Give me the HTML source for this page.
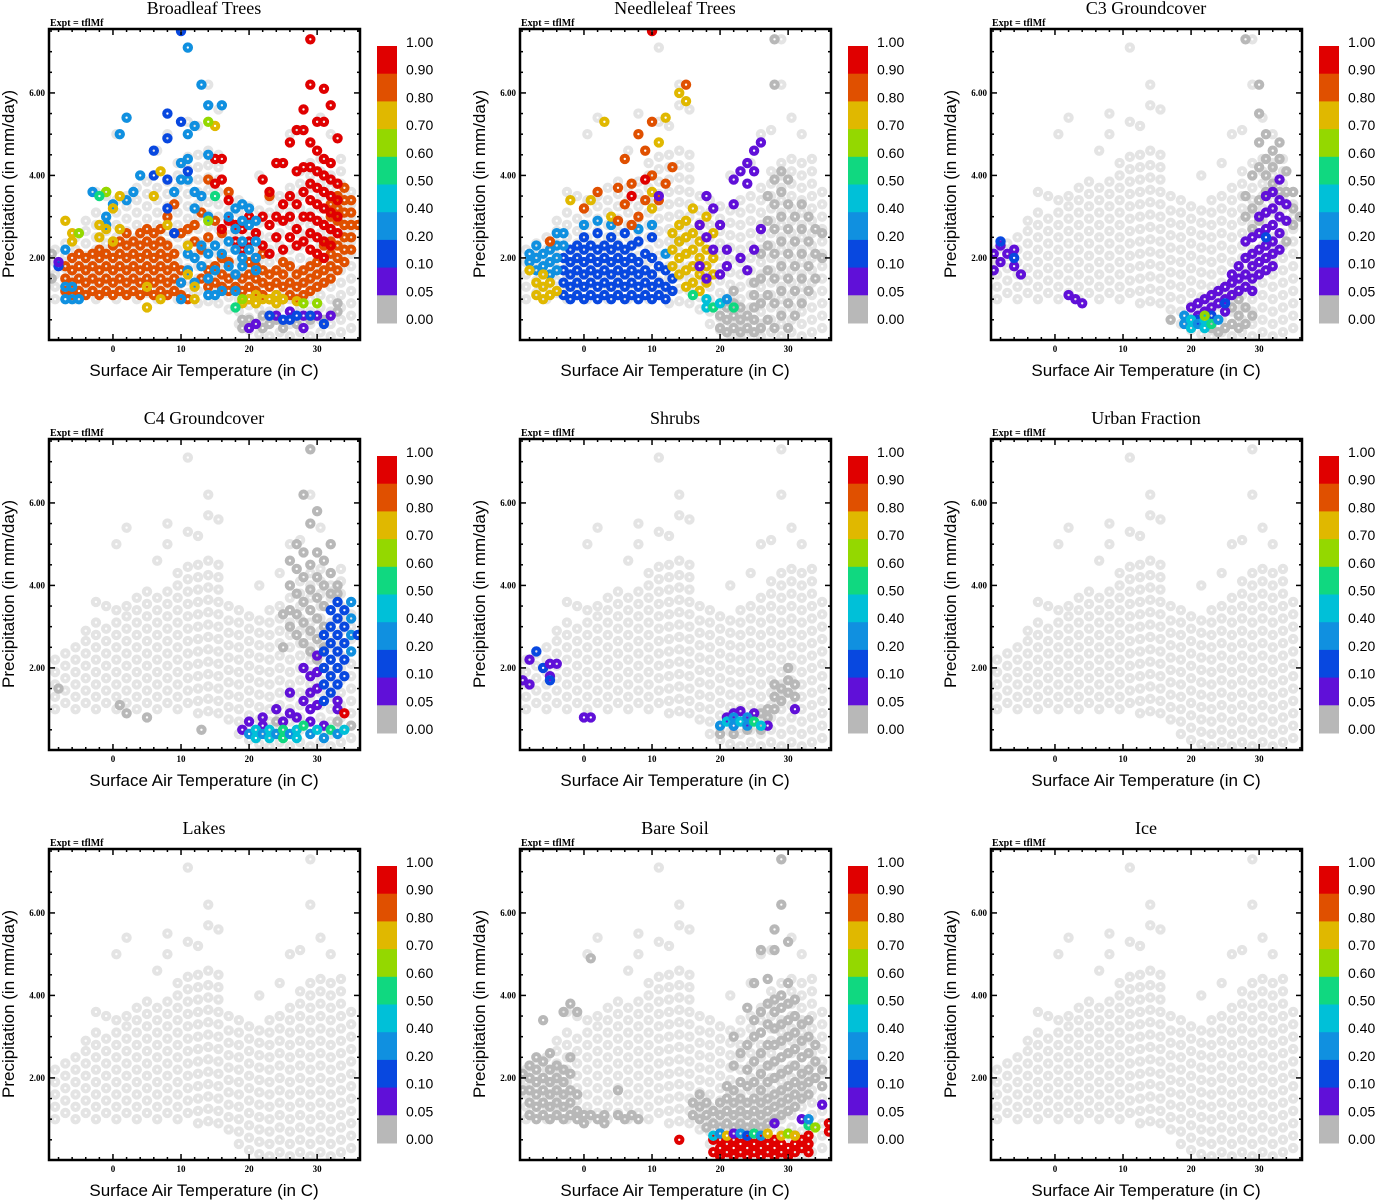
<!DOCTYPE html>
<html><head><meta charset="utf-8"><style>
body{margin:0;background:#fff}
svg{display:block}
.tt{font-family:"Liberation Serif",serif;font-size:18px}
.ex{font-family:"Liberation Serif",serif;font-size:10px;font-weight:bold}
.tk{font-family:"Liberation Serif",serif;font-size:9px;font-weight:bold}
.al{font-family:"Liberation Sans",sans-serif;font-size:17px}
.cb{font-family:"Liberation Sans",sans-serif;font-size:14px}
</style></head><body>
<svg id="fig" width="1377" height="1200" xmlns="http://www.w3.org/2000/svg"></svg>
<script>
// shared background cloud: [temperature, precip, precip, ...]
const cloudCols=[
[-8.5,1.0,1.3,1.6,1.9,2.2],[-7,1.15,1.45,1.75,2.05,2.35],[-5.5,1.0,1.3,1.6,1.9,2.2,2.5],
[-4,1.15,1.45,1.75,2.05,2.35,2.65,2.9],[-2.5,1.0,1.3,1.6,1.9,2.2,2.5,2.8,3.1,3.6],
[-1,1.15,1.45,1.75,2.05,2.35,2.65,2.95,3.5],[0.5,1.0,1.3,1.6,1.9,2.2,2.5,2.8,3.1,3.4,5.0],
[2,1.15,1.45,1.75,2.05,2.35,2.65,2.95,3.25,3.5,5.4],[3.5,1.0,1.3,1.6,1.9,2.2,2.5,2.8,3.1,3.4,3.7],
[5,1.15,1.45,1.75,2.05,2.35,2.65,2.95,3.25,3.55,3.85],[6.5,1.0,1.3,1.6,1.9,2.2,2.5,2.8,3.1,3.4,3.7,4.6],
[8,1.15,1.45,1.75,2.05,2.35,2.65,2.95,3.25,3.55,3.85,5.0,5.5],[9.5,1.0,1.3,1.6,1.9,2.2,2.5,2.8,3.1,3.4,3.7,4.0,4.3],
[11,1.15,1.45,1.75,2.05,2.35,2.65,2.95,3.25,3.55,3.85,4.15,4.45,5.3,7.1],[12.5,0.9,1.2,1.5,1.8,2.1,2.4,2.7,3.0,3.3,3.6,3.9,4.2,4.5,5.2],
[14,0.95,1.25,1.55,1.85,2.15,2.45,2.75,3.05,3.35,3.65,3.95,4.25,4.6,5.7,6.2],[15.5,0.9,1.2,1.5,1.8,2.1,2.4,2.7,3.0,3.3,3.6,3.9,4.2,4.5,5.6],
[17,0.75,1.05,1.35,1.65,1.95,2.25,2.55,2.85,3.15,3.5],[18.5,0.4,0.7,1.0,1.3,1.6,1.9,2.2,2.5,2.8,3.1,3.4],
[20,0.25,0.55,0.85,1.15,1.45,1.75,2.05,2.35,2.65,2.95,3.25],[21.5,0.15,0.45,0.75,1.05,1.35,1.65,1.95,2.25,2.55,2.85,3.15,4.0],
[23,0.1,0.4,0.7,1.0,1.3,1.6,1.9,2.2,2.5,2.8,3.1,3.4],[24.5,0.2,0.5,0.8,1.1,1.4,1.7,2.0,2.3,2.6,2.9,3.2,3.5,4.3],
[26,0.1,0.4,0.7,1.0,1.3,1.6,1.9,2.2,2.5,2.8,3.1,3.4,3.7,5.0],[27.5,0.2,0.5,0.8,1.1,1.4,1.7,2.0,2.3,2.6,2.9,3.2,3.5,3.8,4.1,5.1],
[29,0.1,0.4,0.7,1.0,1.3,1.6,1.9,2.2,2.5,2.8,3.1,3.4,3.7,4.0,4.3,6.2,7.3],[30.5,0.2,0.5,0.8,1.1,1.4,1.7,2.0,2.3,2.6,2.9,3.2,3.5,3.8,4.1,4.4,5.4],
[32,0.1,0.4,0.7,1.0,1.3,1.6,1.9,2.2,2.5,2.8,3.1,3.4,3.7,4.0,4.3,5.0],[33.5,0.2,0.5,0.8,1.1,1.4,1.7,2.0,2.3,2.6,2.9,3.2,3.5,3.8,4.1,4.4],
[35,0.3,0.6,0.9,1.2,1.5,1.8,2.1,2.4,2.7,3.0,3.3,3.6]
];
// overlay points per panel: [temperature, fraction value, precip, precip, ...]
const broadleafPts=[
[19,0,0.5,0.3],[20,0,0.5],[21,0,0.4],[22,0,0.3,0.6],[23,0,0.4],[24,0,0.5],[25,0,0.3],[27,0,0.4],[29,0,0.5],[31,0,0.5],[33,0,0.7,0.9],[-9,0,1.5,2.1],
[-7,.85,1.2,1.5,1.8],[-6,.85,1.1,1.4,1.7,2.0],[-5,.85,1.2,1.5,1.8,2.1],[-4,.85,1.1,1.4,1.7,2.0],[-3,.85,1.2,1.5,1.8,2.1],[-2,.85,1.1,1.4,1.7,2.0,2.2],[-1,.85,1.2,1.5,1.8,2.1],[0,.85,1.1,1.4,1.7,2.0,2.3],[1,.85,1.2,1.5,1.8,2.1,2.4],[2,.85,1.1,1.4,1.7,2.0,2.3,2.6],[3,.85,1.2,1.5,1.8,2.1,2.4],[4,.85,1.1,1.4,1.7,2.0,2.3,2.6],[5,.85,1.2,1.5,1.8,2.1,2.4,2.7],[6,.85,1.1,1.4,1.7,2.0,2.3,2.6],[7,.85,1.2,1.5,1.8,2.1,2.4,2.7],[8,.85,1.1,1.4,1.7,2.0,2.3,3.0],[9,.85,1.2,1.5,1.8,2.1,2.6,3.3],[10,.85,1.1,1.4,1.7,2.6],[11,.85,1.0,2.7],[12,.85,2.4,2.8],[13,.85,1.5,2.2,3.1],[14,.85,1.3,1.7,2.5,3.9],[15,.85,1.4,1.8,2.9],[16,.85,1.3,1.6,2.0,2.6],[17,.85,1.2,1.5,1.9,3.6],[18,.85,1.3,1.6,2.7],[19,.85,1.2,1.5],[20,.85,1.0,1.3,1.6,1.9],[21,.85,1.2,1.5,1.8,2.6],[22,.85,1.1,1.4,1.7,2.1],[23,.85,1.0,1.3,1.6,3.5],[24,.85,1.1,1.4,1.7],[25,.85,1.0,1.3,1.6,1.9],[26,.85,1.1,1.4,1.8],[27,.85,1.0,1.3,1.6],[28,.85,1.1,1.4,1.7],[29,.85,1.2,1.5,1.8],[30,.85,1.3,1.6,1.9],[31,.85,1.4,1.7,2.0,2.3],[32,.85,1.5,1.8,2.1,2.4,2.7,3.0,3.3],[33,.85,1.7,2.0,2.3,2.6,2.9,3.2,3.5,3.8],[34,.85,1.9,2.2,2.5,2.8,3.1,3.4,3.7],[35,.85,2.2,2.5,2.8,3.1,3.4],[36,.85,2.8],
[15,.95,4.4,3.8],[16,.95,2.7,4.4,3.9],[17,.95,3.4,2.9],[18,.95,2.8,2.4],[19,.95,2.7,2.2],[20,.95,2.4,3.0],[21,.95,2.6,2.0],[22,.95,3.0,3.9,2.3],[23,.95,2.8,3.6,2.1],[24,.95,3.0,4.3,2.5],[25,.95,2.9,3.3,4.3,2.2],[26,.95,3.0,3.5,4.8,2.5],[27,.95,2.7,3.3,4.1,5.1,2.3],[28,.95,2.4,3.0,3.6,4.2,5.1,5.6],[29,.95,2.2,2.6,3.0,3.4,3.8,4.2,4.8,6.2,7.3],[30,.95,2.1,2.5,2.9,3.3,3.7,4.1,4.6,5.3],[31,.95,2.0,2.4,2.8,3.2,3.6,4.0,4.4,5.3,6.1],[32,.95,2.3,2.7,3.1,3.5,3.9,4.3,5.7],[33,.95,2.6,3.0,3.4,3.8,4.9],
[-7,.3,1.0,1.3,2.2],[-6,.3,1.0,1.3],[-5,.3,1.0],[-3,.3,3.6],[-1,.3,2.8,3.0],[0,.3,3.3],[1,.3,5.0],[2,.3,5.4,3.4],[3,.3,3.6],[4,.3,4.0],[9,.3,3.6],[10,.3,4.3,3.9,1.0,1.4],[11,.3,7.1,5.0,4.4,3.9,1.7,2.1],[12,.3,3.6,3.2,2.0,1.4,5.2],[13,.3,6.2,3.5,2.3,1.8],[14,.3,5.7,4.5,3.0,2.1,1.5,1.1],[15,.3,1.1,2.3,1.7],[16,.3,5.7,2.1,1.2],[17,.3,3.0,2.4,1.8],[18,.3,3.2,2.7,2.2,1.6,1.2],[19,.3,3.3,2.9,2.4,2.0,1.8],[20,.3,3.2,2.8,2.2],[21,.3,2.9,2.4,2.0,1.7],
[8,.15,5.5,4.9,3.9,3.2],[6,.15,4.6,4.0],[10,.15,5.3,7.5],[11,.15,4.1],[9,.15,2.6],[-8,.15,1.8],
[-7,.75,2.9],[-6,.75,2.4,2.6],[-2,.75,2.5,2.8],[-1,.75,2.7,3.6],[0,.75,2.4,3.2],[1,.75,2.7,3.5],[5,.75,1.3,0.8],[6,.75,3.5],[7,.75,4.1,1.0],[8,.75,2.8],[11,.75,2.3,1.6],[12,.75,1.0,1.3],[15,.75,5.2],[19,.75,0.9],[20,.75,1.0],[21,.75,0.9,1.1],[22,.75,1.0],[23,.75,1.0],[24,.75,0.9,1.1],[25,.75,1.0],[27,.75,0.95],
[-5,.65,2.6],[-1,.65,3.6],[14,.65,5.3,2.9],[15,.55,3.5],[-2,.55,3.5],[19,.65,1.0],[28,.65,0.9],[30,.65,0.9],[18,.55,0.8],
[20,.07,0.3],[21,.07,0.4],[24,.07,0.6],[26,.07,0.7],[28,.07,0.3,0.6],[30,.07,0.6],[32,.07,0.6],[-8,.07,1.9],
[23,.15,0.6],[25,.15,0.5],[26,.15,0.5],[27,.15,0.6],[29,.15,0.6],[31,.15,0.4]
];
const needleleafPts=[
[20,0,0.3,0.6,0.9],[21,0,0.2,0.5,0.8],[22,0,0.3,0.6,0.9,1.2],[23,0,0.2,0.5,0.8],[24,0,0.3,0.6],[25,0,0.2,0.5,0.8,1.1,1.4],[26,0,0.3,0.9,1.5,2.1,2.7],[27,0,0.5,1.1,1.7,2.3,2.9,3.5],[28,0,0.3,0.9,1.5,2.1,2.7,3.3,3.9,6.2,7.3],[29,0,0.6,1.2,1.8,2.4,3.0,3.6,4.1],[30,0,0.3,0.9,1.5,2.1,2.7,3.3,3.9],[31,0,0.6,1.2,1.8,2.4,3.0],[32,0,0.9,1.5,2.1,2.7,3.3],[33,0,1.2,1.8,2.4,3.0],[34,0,1.5,2.1,2.7],[35,0,2.0,2.6],
[-3,.15,1.1,1.4,1.7,2.0],[-2,.15,1.0,1.3,1.6,1.9,2.2],[-1,.15,1.1,1.4,1.7,2.0,2.3],[0,.15,1.0,1.3,1.6,1.9,2.2,2.5],[1,.15,1.1,1.4,1.7,2.0,2.3],[2,.15,1.0,1.3,1.6,1.9,2.2,2.6],[3,.15,1.1,1.4,1.7,2.0,2.3],[4,.15,1.0,1.3,1.6,1.9,2.2,2.5],[5,.15,1.1,1.4,1.7,2.0,2.3],[6,.15,1.0,1.3,1.6,1.9,2.2,2.6],[7,.15,1.1,1.4,1.7,2.0,2.3],[8,.15,1.0,1.3,1.6,1.9,2.4],[9,.15,1.1,1.4,1.7,2.1],[10,.15,1.0,1.3,1.6,2.0,2.5],[11,.15,1.1,1.4,1.8],[12,.15,1.0,1.3,1.7],[13,.15,1.2,1.5],
[-8,.3,1.9,2.1],[-7,.3,1.7,2.0,2.3],[-6,.3,1.8,2.1],[-5,.3,1.6,1.9,2.2],[-4,.3,1.7,2.0,2.3,2.6],[-3,.3,2.3,2.6],[0,.3,2.8],[2,.3,2.9],[4,.3,2.8],[8,.3,2.7],[10,.3,2.8],[12,.3,2.1],[14,.3,2.4],
[-7,.75,1.1,1.4],[-6,.75,1.0,1.3,1.6],[-5,.75,1.1,1.4],[-4,.75,1.2],[-8,.75,1.7],[1,.75,3.4],[4,.75,3.0],[13,.75,1.8,2.2,2.6],[14,.75,1.6,2.0,2.4,2.8,6.0],[15,.75,1.3,1.7,2.1,2.5,2.9],[16,.75,1.4,1.8,2.2,2.6,3.2],[17,.75,1.2,1.6,2.0,2.4,2.8],[18,.75,1.4,1.8,2.2,3.0],[19,.75,1.6,2.0,2.6],[10,.75,3.2,3.6],[11,.75,4.8],[12,.75,5.4],[15,.75,5.8],[-2,.75,3.4],[3,.75,5.3],
[0,.85,3.2],[2,.85,3.6],[5,.85,3.7,2.9],[6,.85,4.4,3.3],[7,.85,3.8,2.8],[8,.85,5.0,3.0],[9,.85,4.6,3.4],[10,.85,5.3,4.0],[11,.85,3.4],[12,.85,3.8],[13,.85,4.2],[15,.85,6.2],[-5,.85,2.4],
[7,.95,3.5],[10,.95,7.5],[9,.95,3.9],
[17,.07,1.8,2.8],[18,.07,1.5,2.5,3.5],[19,.07,2.2,3.2],[20,.07,1.6,2.8],[21,.07,1.8,2.2],[22,.07,3.3,3.9],[23,.07,4.1,2.0],[24,.07,3.8,4.3,1.7],[25,.07,4.1,4.6,2.2],[26,.07,4.8,2.7],[11,.07,3.5],
[18,.45,1.0,0.8],[19,.55,0.8],[20,.45,0.9],[21,.3,1.0],[22,.55,0.8],[16,.55,1.1]
];
const c3Pts=[
[17,0,0.5],[23,0,0.3],[24,0,0.2],[25,0,0.3],[26,0,0.4,0.8],[27,0,0.3,0.6,1.0],[28,0,0.4,0.8,3.0,3.5,7.3],[29,0,0.6,2.7,3.2,4.0],[30,0,2.9,3.4,4.2,4.8,5.5,6.2],[31,0,3.6,4.0,4.4,5.0],[32,0,3.8,4.2,4.6],[33,0,4.4,4.8,3.6],[34,0,3.6,4.1,2.4],[35,0,2.8,3.2,3.6],[36,0,3.0],
[-9,.07,1.7,2.1],[-8,.07,2.3,1.9],[-7,.07,2.1],[-6,.07,1.8,2.2],[-5,.07,1.6],[2,.07,1.1],[3,.07,1.0],[4,.07,0.9],[20,.07,0.5,0.8],[21,.07,0.9,0.6],[22,.07,0.7,1.0],[23,.07,0.8,1.1],[24,.07,0.9,1.2],[25,.07,1.0,1.3,0.7],[26,.07,1.1,1.4,1.6],[27,.07,1.2,1.5,1.8],[28,.07,1.3,1.6,2.0,2.4],[29,.07,1.5,1.8,2.1,2.5,1.2],[30,.07,1.6,1.9,2.2,2.6,3.0],[31,.07,1.7,2.0,2.3,2.7,3.1,3.5],[32,.07,1.8,2.1,2.4,2.8,3.2,3.6],[33,.07,2.2,2.6,3.0,3.4,3.9],[34,.07,2.9,3.3],
[-8,.15,2.4],[-6,.15,2.0],[21,.15,0.5],[23,.15,0.6],[25,.15,0.9],[31,.15,2.5],
[19,.3,0.4,0.6],[20,.45,0.3,0.5],[21,.3,0.4],[22,.45,0.5,0.3],[23,.55,0.4],[24,.3,0.5],[22,.65,0.6]
];
const c4Pts=[
[-8,0,1.5],[1,0,1.1],[2,0,0.9],[5,0,0.8],[13,0,0.5],[26,0,3.0,3.4,4.0,4.6],[27,0,2.8,3.3,3.8,4.4,5.0],[28,0,2.6,3.1,3.6,4.2,4.8,6.2],[29,0,2.4,2.9,3.4,3.9,4.5,5.5,7.3],[30,0,2.2,2.7,3.2,3.7,4.2,4.8,5.8],[31,0,2.0,2.5,3.0,3.5,4.0,4.6],[32,0,3.8,4.3,5.0],[33,0,4.0,3.8],[25,0,2.5,3.3],[24,0,1.0,0.7],[33,0,0.7],[35,0,0.6],
[29,.07,1.0,1.4,1.8],[30,.07,1.1,1.5,1.9,2.3],[31,.15,1.2,1.6,2.0,2.4,2.8],[32,.15,1.4,1.8,2.2,2.6,3.0,3.4],[33,.15,1.6,2.0,2.4,2.8,3.2,3.6],[34,.15,1.8,2.2,2.6,3.0,3.4],[35,.3,2.4,2.8,3.2,3.6],[36,.15,2.8],[28,.07,1.2,2.0],[26,.07,0.9,1.4],[24,.07,1.0],[33,.07,1.0,1.2],[20,.07,0.7],[22,.07,0.8,0.6],[25,.07,0.7],[27,.07,0.8],[29,.07,0.7],[31,.07,0.6],[19,.07,0.5],
[20,.3,0.4],[21,.45,0.3,0.5],[22,.3,0.4],[23,.45,0.3,0.5],[24,.3,0.4],[25,.55,0.5,0.3],[26,.3,0.4],[27,.45,0.5,0.3],[28,.55,0.6],[29,.3,0.4],[30,.45,0.5],[31,.3,0.3],[32,.55,0.5],[33,.3,0.4],[34,.95,0.9],[34,.45,0.5]
];
const shrubsPts=[
[20,0,0.4],[22,0,0.4],[24,0,0.5],[26,0,0.5,0.9],[27,0,0.8,1.0],[28,0,1.0,1.3,1.6],[29,0,1.2,1.5],[30,0,1.4,1.7,2.0],[31,0,1.6,1.3],
[-9,.07,1.7],[-8,.07,2.2,1.6],[-7,.15,2.4],[-6,.15,2.0],[-5,.07,1.8,2.1],[-4,.07,2.1],[0,.07,0.8],[1,.07,0.8],[21,.07,0.8],[22,.07,0.9,0.6],[23,.07,0.95],[24,.07,0.7],[25,.07,0.9],[27,.07,0.6],[31,.07,1.0],[-5,.15,1.7],
[20,.3,0.6],[21,.45,0.7],[22,.3,0.6,0.8],[23,.45,0.7],[24,.3,0.6,0.8],[25,.55,0.7],[26,.45,0.6]
];
const urbanPts=[];
const lakesPts=[];
const bareSoilPts=[
[-9,0,1.7,2.1],[-8,0,1.1,1.4,1.7,2.0,2.3],[-7,0,1.0,1.3,1.6,1.9,2.2,2.5],[-6,0,1.1,1.4,1.7,2.0,2.4,3.4],[-5,0,1.0,1.3,1.6,1.9,2.2,2.6],[-4,0,1.1,1.4,1.7,2.0,2.3],[-3,0,1.0,1.3,1.6,1.9,2.2,3.6],[-2,0,1.1,1.4,1.7,2.1,2.5,3.8],[-1,0,1.0,1.2,1.6,3.6],[0,0,0.9,1.1],[1,0,1.1,4.9],[2,0,1.0],[3,0,1.1,0.9],[5,0,1.1,1.7],[6,0,1.0],[7,0,1.1],[8,0,1.0],[16,0,1.1,1.4],[17,0,1.0,1.3,1.6],[18,0,0.8,1.1,1.4],[19,0,0.9,1.2],[20,0,0.8,1.1,1.4],[21,0,0.9,1.2,1.5,1.8],[22,0,0.8,1.1,1.4,1.7,2.3,3.0],[23,0,0.9,1.2,1.5,1.9,2.6],[24,0,0.8,1.1,1.4,1.8,2.2,2.8,3.7],[25,0,0.9,1.2,1.5,1.9,2.4,3.0,3.4,4.3],[26,0,0.8,1.1,1.4,1.7,2.1,2.6,3.1,3.6,5.1],[27,0,0.9,1.2,1.5,1.9,2.3,2.8,3.3,3.8,4.4],[28,0,1.0,1.3,1.6,2.0,2.4,2.8,3.2,3.6,3.9,5.6,5.1],[29,0,1.1,1.4,1.7,2.1,2.5,2.9,3.3,3.7,4.0,6.2,7.3],[30,0,1.2,1.5,1.8,2.2,2.6,3.0,3.4,3.8,4.3,5.3],[31,0,1.3,1.6,1.9,2.3,2.7,3.1,3.5,3.9],[32,0,1.5,1.8,2.1,2.5,2.9,3.3],[33,0,1.6,1.9,2.2,2.6,3.0,3.4],[34,0,2.0,2.4,2.8],[35,0,1.8,2.2],
[14,.95,0.5],[19,.95,0.2,0.5],[20,.95,0.1,0.3,0.5],[21,.95,0.2,0.4],[22,.95,0.1,0.3,0.5],[23,.95,0.2,0.4],[24,.95,0.1,0.3,0.5],[25,.95,0.2,0.4],[26,.95,0.1,0.3,0.5],[27,.95,0.2,0.4],[28,.95,0.1,0.3,0.5],[29,.95,0.2,0.4],[30,.95,0.1,0.3],[31,.95,0.2,0.4,0.6],[32,.95,0.3,0.5],[33,.95,0.2,0.4,0.6],[36,.95,0.9,0.7],
[19,.45,0.6],[20,.3,0.65],[21,.75,0.6],[22,.07,0.65],[23,.3,0.65],[24,.15,0.6],[25,.55,0.65],[26,.3,0.6],[27,.75,0.65],[28,.07,0.9],[29,.75,0.6],[30,.65,0.65],[31,.75,0.6],[32,.07,1.0],[33,.55,0.85],[34,.65,0.8],[35,.07,1.35],[33,.3,1.0]
];
const icePts=[];
const panelTitles=["Broadleaf Trees","Needleleaf Trees","C3 Groundcover","C4 Groundcover","Shrubs","Urban Fraction","Lakes","Bare Soil","Ice"];
const xTicks=[0,10,20,30];
const yTicks=[2,4,6];
const yTickLabels=["2.00","4.00","6.00"];
const cbLabels=["1.00","0.90","0.80","0.70","0.60","0.50","0.40","0.20","0.10","0.05","0.00"];
const cbBounds=[1.0,0.9,0.8,0.7,0.6,0.5,0.4,0.2,0.1,0.05,0.0];
const cbColors=["#e00000","#e05000","#e0b800","#94d800","#10d880","#00c0d8","#1090e0","#0848e0","#6010d8","#b8b8b8"];

const allPts=[broadleafPts,needleleafPts,c3Pts,c4Pts,shrubsPts,urbanPts,lakesPts,bareSoilPts,icePts];
const NS="http://www.w3.org/2000/svg";
const svg=document.getElementById('fig');
const PW=311,PH=311,TMIN=-9.4,TMAX=36.3,PMIN=0.01,PMAX=7.55;
function mk(tag,attrs,parent){const e=document.createElementNS(NS,tag);for(const k in attrs)e.setAttribute(k,attrs[k]);(parent||svg).appendChild(e);return e;}
function colorFor(v){for(let i=0;i<10;i++){if(v>cbBounds[i+1]||i===9)return cbColors[i];}return cbColors[9];}

for(let k=0;k<9;k++){
  const c=k%3,r=Math.floor(k/3);
  const x0=49+c*471,y0=29+r*410;
  const sx=t=>x0+(t-TMIN)/(TMAX-TMIN)*PW;
  const sy=p=>y0+(PMAX-p)/(PMAX-PMIN)*PH;
  const g=mk('g',{});
  
  
  const ttl=mk('text',{x:x0+155,y:y0-15,'text-anchor':'middle',class:'tt'},g);ttl.textContent=panelTitles[k];
  
  
  const ex=mk('text',{x:x0+1,y:y0-3,class:'ex'},g);ex.textContent="Expt = tflMf";
  
  
  const clip=mk('clipPath',{id:'cp'+k},g);mk('rect',{x:x0,y:y0,width:PW,height:PH},clip);
  const pts=mk('g',{'clip-path':'url(#cp'+k+')'},g);
  
  
  function dot(t,p,col){
    const d=mk('circle',{cx:sx(t),cy:sy(p),r:3.2,fill:'none',stroke:col,'stroke-width':4},pts);
    
    
  }
  cloudCols.forEach(col=>{for(let i=1;i<col.length;i++)dot(col[0],col[i],'#e4e4e4');});
  const ov=allPts[k];
  ov.filter(a=>a[1]<0.05).forEach(a=>{for(let i=2;i<a.length;i++)dot(a[0],a[i],colorFor(a[1]));});
  ov.filter(a=>a[1]>=0.05).forEach(a=>{for(let i=2;i<a.length;i++)dot(a[0],a[i],colorFor(a[1]));});
  const fr=mk('rect',{x:x0,y:y0,width:PW,height:PH,fill:'none',stroke:'#000','stroke-width':2.5},g);
  
  
  for(let t=-8;t<=36;t+=2){const L=(t%10===0)?6:3;const X=sx(t);
    mk('line',{x1:X,x2:X,y1:y0+PH,y2:y0+PH-L,stroke:'#000','stroke-width':1.5},g);
    mk('line',{x1:X,x2:X,y1:y0,y2:y0+L,stroke:'#000','stroke-width':1.5},g);}
  xTicks.forEach(t=>{const tx=mk('text',{x:sx(t),y:y0+PH+12,'text-anchor':'middle',class:'tk'},g);tx.textContent=String(t);
    
    });
  for(let p=0.5;p<=7.5;p+=0.5){const L=(p%2===0)?6:3;const Y=sy(p);
    mk('line',{x1:x0,x2:x0+L,y1:Y,y2:Y,stroke:'#000','stroke-width':1.5},g);
    mk('line',{x1:x0+PW,x2:x0+PW-L,y1:Y,y2:Y,stroke:'#000','stroke-width':1.5},g);}
  yTicks.forEach((p,i)=>{const ty=mk('text',{x:x0-4,y:sy(p)+3,'text-anchor':'end',class:'tk'},g);ty.textContent=yTickLabels[i];
    
    });
  const xl=mk('text',{x:x0+155,y:y0+347,'text-anchor':'middle',class:'al'},g);xl.textContent="Surface Air Temperature (in C)";
  
  
  const yl=mk('text',{x:0,y:0,'text-anchor':'middle',class:'al',transform:`translate(${x0-35},${y0+155}) rotate(-90)`},g);yl.textContent="Precipitation (in mm/day)";
  
  
  const cb=mk('g',{},g);
  
  
  const bh=277/10;
  for(let i=0;i<10;i++){const b=mk('rect',{x:x0+328,y:y0+17+i*bh,width:20,height:bh+0.5,fill:cbColors[i]},cb);
    
    }
  cbLabels.forEach((s,i)=>{const t=mk('text',{x:x0+357,y:y0+17+i*bh+1,class:'cb'},cb);t.textContent=s;
    
    });
}
</script>
</body></html>
